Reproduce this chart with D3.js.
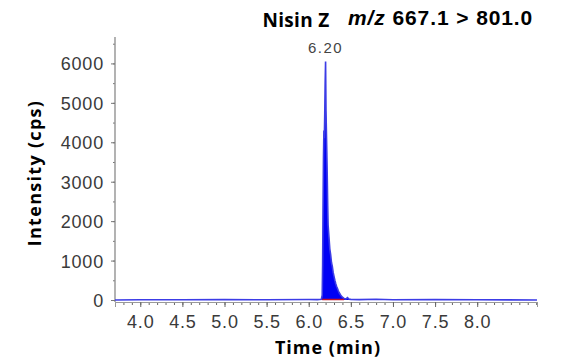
<!DOCTYPE html>
<html>
<head>
<meta charset="utf-8">
<script src="https://cdn.jsdelivr.net/npm/d3@7"></script>
<style>
  body { margin: 0; background: #fff; }
  svg { display: block; }
  .tick text { font-family: "Liberation Sans", Arial, sans-serif; fill: #3a3a3a; }
</style>
</head>
<body>
<svg id="chart" width="575" height="359"></svg>
<script>
// chromatogram
const times = [3.70, 4.00, 4.50, 5.00, 5.50, 6.00, 6.10, 6.15, 6.16, 6.165, 6.17, 6.175, 6.18, 6.185,
  6.19, 6.195, 6.20, 6.205, 6.21, 6.215, 6.22, 6.225, 6.23, 6.235, 6.24, 6.245, 6.25, 6.26, 6.27,
  6.28, 6.29, 6.30, 6.31, 6.32, 6.33, 6.34, 6.35, 6.36, 6.38, 6.40, 6.42, 6.44, 6.46, 6.48, 6.50,
  6.60, 6.80, 7.00, 7.50, 8.00, 8.71]
const intensity = [0, 8, 5, 10, 6, 12, 10, 20, 120, 900, 2400, 3600, 4300, 4100,
  4700, 5500, 6050, 4800, 4250, 3700, 3100, 2400, 1900, 1750, 1600, 1450, 1300, 1150, 950,
  850, 700, 600, 500, 420, 350, 300, 240, 190, 120, 70, 40, 25, 60, 20, 15,
  10, 20, 8, 10, 6, 0]
const peakTime = 6.20
const peakLabel = "6.20"
const integration = [6.16, 6.42]
const yTicks = [0, 1000, 2000, 3000, 4000, 5000, 6000]
const xTicks = [4.0, 4.5, 5.0, 5.5, 6.0, 6.5, 7.0, 7.5, 8.0]

const svg = d3.select("#chart")
const margin = { top: 37, right: 38, bottom: 59, left: 115 }
const width = +svg.attr("width") - margin.left - margin.right
const height = +svg.attr("height") - margin.top - margin.bottom
const g = svg.append("g").attr("transform", "translate(" + margin.left + "," + margin.top + ")")

const x = d3.scaleLinear().domain([3.70, 8.71]).range([0, width])
const y = d3.scaleLinear().domain([0, 6670]).range([height, 0])
const data = times.map((t, i) => ({ t: t, v: intensity[i] }))

// x axis: minor ticks every 0.1, labelled every 0.5
const xa = g.append("g").attr("transform", "translate(0," + (height + 2) + ")")
xa.call(d3.axisBottom(x).tickValues(d3.range(38, 88).map(d => d / 10)).tickSize(3).tickFormat(""))
xa.append("g").call(d3.axisBottom(x).tickValues(xTicks).tickSize(5).tickPadding(8).tickFormat(d3.format(".1f")))
xa.selectAll(".domain").attr("stroke", "#999")
xa.selectAll("line").attr("stroke", "#666")
xa.selectAll("text").attr("font-size", 18).attr("letter-spacing", 0.8)

// y axis
const ya = g.append("g")
ya.call(d3.axisLeft(y).tickValues(d3.range(0, 6700, 500)).tickSize(2).tickFormat(""))
ya.append("g").call(d3.axisLeft(y).tickValues(yTicks).tickSize(4).tickPadding(7).tickFormat(d3.format("d")))
ya.selectAll(".domain").attr("d", "M0," + (height + 2) + "V0").attr("stroke", "#999")
ya.selectAll("line").attr("stroke", "#777")
ya.selectAll("text").attr("font-size", 18).attr("letter-spacing", 0.8).attr("dy", "0.36em")

// trace
g.append("path").datum(data)
  .attr("fill", "#0000f5")
  .attr("d", d3.area().x(d => x(d.t)).y0(y(0)).y1(d => y(d.v)))
g.append("path").datum(data)
  .attr("fill", "none").attr("stroke", "#3c3ce6").attr("stroke-width", 1.6)
  .attr("d", d3.line().x(d => x(d.t)).y(d => y(d.v)))

// integration baseline
g.append("line")
  .attr("x1", x(integration[0])).attr("x2", x(integration[1]))
  .attr("y1", y(0) - 0.5).attr("y2", y(0) - 0.5)
  .attr("stroke", "#c0102a").attr("stroke-width", 1.5)

g.append("text")
  .attr("x", x(peakTime)).attr("y", y(6050) - 8)
  .attr("text-anchor", "middle")
  .attr("font-family", "Liberation Sans, Arial, sans-serif")
  .attr("font-size", 15).attr("letter-spacing", 1.5).attr("fill", "#444")
  .text(peakLabel)

// titles
svg.append("text")
  .attr("x", 296).attr("y", 27).attr("text-anchor", "middle")
  .attr("font-family", "Open Sans, sans-serif").attr("font-weight", "bold")
  .attr("font-size", 19).attr("letter-spacing", 0.3)
  .text("Nisin Z")

const mz = svg.append("text")
  .attr("x", 348).attr("y", 25)
  .attr("font-family", "Liberation Sans, Arial, sans-serif").attr("font-weight", "bold")
  .attr("font-size", 21).attr("letter-spacing", 0.9)
mz.append("tspan").attr("font-style", "italic").text("m/z")
mz.append("tspan").text(" 667.1 > 801.0")

svg.append("text")
  .attr("x", 328).attr("y", 354).attr("text-anchor", "middle")
  .attr("font-family", "Open Sans, sans-serif").attr("font-weight", "bold")
  .attr("font-size", 18).attr("letter-spacing", 1)
  .text("Time (min)")

svg.append("text")
  .attr("transform", "translate(41,173) rotate(-90)")
  .attr("text-anchor", "middle")
  .attr("font-family", "Open Sans, sans-serif").attr("font-weight", "bold")
  .attr("font-size", 18).attr("letter-spacing", 1.3)
  .text("Intensity (cps)")
</script>
</body>
</html>
